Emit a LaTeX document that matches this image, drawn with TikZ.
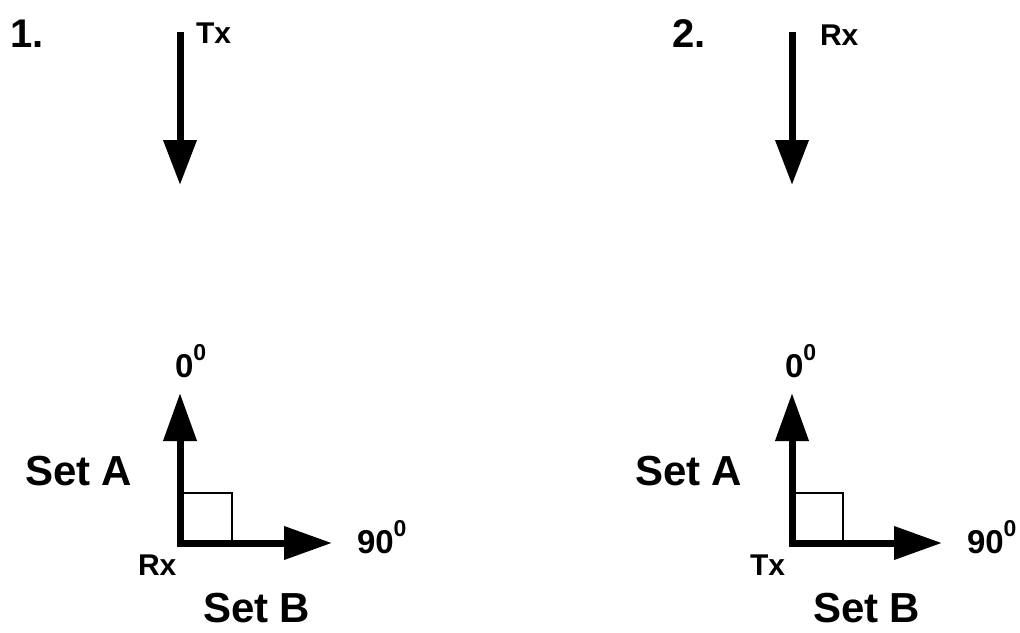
\documentclass[tikz,border=0pt]{standalone}
\usepackage{fontspec}
\setmainfont{Liberation Sans}
\usetikzlibrary{arrows.meta}
\newcommand{\degsup}[1]{#1\raisebox{17pt}{\fontsize{23}{23}\selectfont 0}}
\tikzset{
  txt/.style={inner sep=0pt, outer sep=0pt, anchor=base west, font=\bfseries},
  bigtxt/.style={txt, font=\fontsize{42}{48}\selectfont\bfseries},
  numtxt/.style={txt, font=\fontsize{40}{46}\selectfont\bfseries},
  smalltxt/.style={txt, font=\fontsize{30}{36}\selectfont\bfseries},
  degtxt/.style={txt, font=\fontsize{33}{38}\selectfont\bfseries},
  heavyarrow/.style={line width=7pt, -{Triangle[length=48pt, width=32pt]}},
  downarrow/.style={line width=7pt, -{Triangle[length=45pt, width=32pt]}},
  corner/.style={line width=1.5pt}
}
\begin{document}
\begin{tikzpicture}[x=1pt, y=-1pt]
  \useasboundingbox (0,0) rectangle (1020,632);

  % ---- panel 1 ----
  \node[numtxt] (n1) at (10,47) {1.};
  \coordinate (t1a) at (180,32);
  \coordinate (t1b) at (180,185);
  \draw[downarrow] (t1a) -- (t1b);
  \node[smalltxt] (tx1) at (196,43) {Tx};

  \coordinate (o1) at (180,543);
  \coordinate (u1) at (180,393);
  \coordinate (r1) at (332,543);
  \draw[corner] (o1) rectangle (232,493);
  \draw[heavyarrow] ([yshift=3.5pt]o1) -- (u1);
  \draw[heavyarrow] ([xshift=-3.5pt]o1) -- (r1);
  \node[degtxt] (z1) at (175,377) {\degsup{0}};
  \node[degtxt] (n90a) at (357,553) {\degsup{90}};
  \node[bigtxt] (sa1) at (25,485) {Set A};
  \node[smalltxt] (rx1) at (138,575) {Rx};
  \node[bigtxt] (sb1) at (203,622) {Set B};

  % ---- panel 2 ----
  \node[numtxt] (n2) at (672,47) {2.};
  \coordinate (t2a) at (792,32);
  \coordinate (t2b) at (792,185);
  \draw[downarrow] (t2a) -- (t2b);
  \node[smalltxt] (rx2) at (820,45) {Rx};

  \coordinate (o2) at (792,543);
  \coordinate (u2) at (792,393);
  \coordinate (r2) at (942,543);
  \draw[corner] (o2) rectangle (843,493);
  \draw[heavyarrow] ([yshift=3.5pt]o2) -- (u2);
  \draw[heavyarrow] ([xshift=-3.5pt]o2) -- (r2);
  \node[degtxt] (z2) at (785,377) {\degsup{0}};
  \node[degtxt] (n90b) at (967,553) {\degsup{90}};
  \node[bigtxt] (sa2) at (635,485) {Set A};
  \node[smalltxt] (tx2) at (750,575) {Tx};
  \node[bigtxt] (sb2) at (813,622) {Set B};
\end{tikzpicture}
\end{document}
